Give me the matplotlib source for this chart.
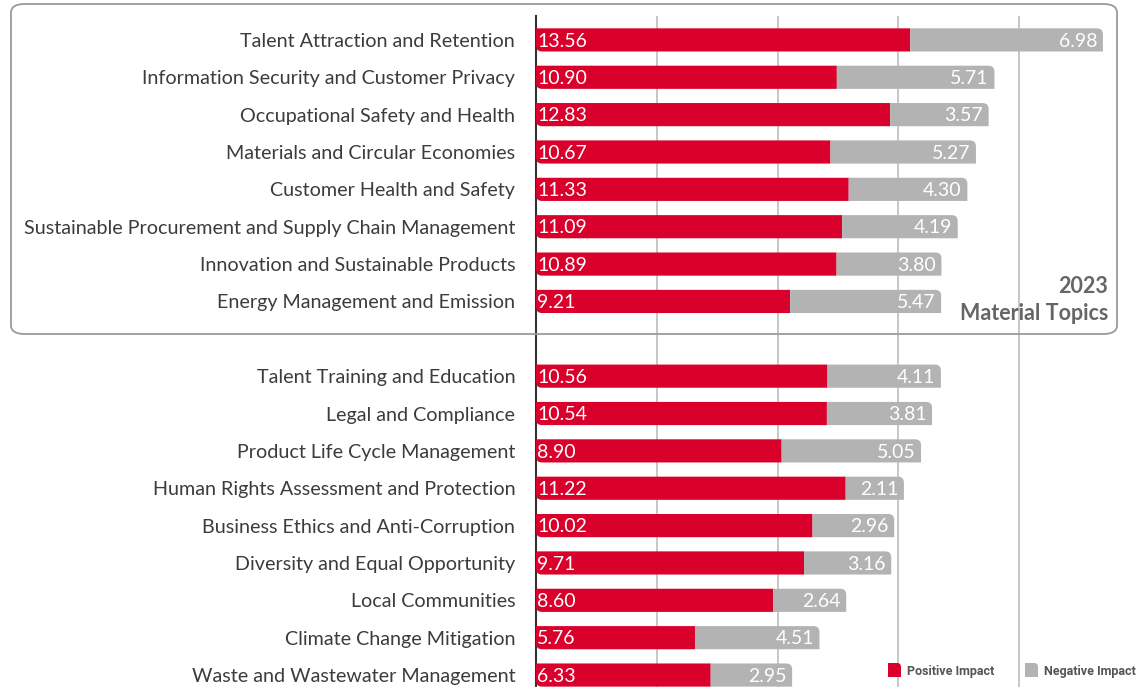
import matplotlib
matplotlib.use("Agg")
import matplotlib.pyplot as plt
from matplotlib.patches import FancyBboxPatch, PathPatch
from matplotlib.path import Path
import numpy as np

topics = [
    "Talent Attraction and Retention",
    "Information Security and Customer Privacy",
    "Occupational Safety and Health",
    "Materials and Circular Economies",
    "Customer Health and Safety",
    "Sustainable Procurement and Supply Chain Management",
    "Innovation and Sustainable Products",
    "Energy Management and Emission",
    "",
    "Talent Training and Education",
    "Legal and Compliance",
    "Product Life Cycle Management",
    "Human Rights Assessment and Protection",
    "Business Ethics and Anti-Corruption",
    "Diversity and Equal Opportunity",
    "Local Communities",
    "Climate Change Mitigation",
    "Waste and Wastewater Management",
]
positive = [13.56, 10.90, 12.83, 10.67, 11.33, 11.09, 10.89, 9.21, None,
            10.56, 10.54, 8.90, 11.22, 10.02, 9.71, 8.60, 5.76, 6.33]
negative = [6.98, 5.71, 3.57, 5.27, 4.30, 4.19, 3.80, 5.47, None,
            4.11, 3.81, 5.05, 2.11, 2.96, 3.16, 2.64, 4.51, 2.95]
legend_labels = ["Positive Impact", "Negative Impact"]
box_title = "2023\nMaterial Topics"

RED = "#D9002B"
GRAY = "#B3B3B3"
TXT = "#3C3C3C"
FONT = ["Lato", "DejaVu Sans"]

W, H = 1140, 687
fig = plt.figure(figsize=(W / 100, H / 100), dpi=100)
ax = fig.add_axes([536 / W, 0, (W - 536) / W, (H - 16) / H])

idx = [i for i, p in enumerate(positive) if p is not None]
pos = np.array([positive[i] for i in idx])
neg = np.array([negative[i] for i in idx])
ys = np.array(idx, dtype=float)

xmax = (W - 536) / 27.6
ax.set_xlim(0, xmax)
ax.set_ylim(17.32, -0.64)


def rounded_rect(x0, y0, x1, y1, rx, ry, corner):
    """Rectangle with one rounded corner: corner = (cx, cy) from x0/x1 and y0/y1."""
    pts = {"ll": (x0, y0), "lr": (x1, y0), "ur": (x1, y1), "ul": (x0, y1)}
    order = ["ll", "lr", "ur", "ul"]
    verts, codes = [], []
    for k in order:
        px, py = pts[k]
        if k == corner:
            # incoming direction and outgoing direction
            i = order.index(k)
            prev = pts[order[i - 1]]
            nxt = pts[order[(i + 1) % 4]]
            dxp = np.sign(prev[0] - px) * rx
            dyp = np.sign(prev[1] - py) * ry
            dxn = np.sign(nxt[0] - px) * rx
            dyn = np.sign(nxt[1] - py) * ry
            a = (px + dxp, py + dyp)
            b = (px + dxn, py + dyn)
            verts += [a, (px, py), b]
            codes += [Path.LINETO, Path.CURVE3, Path.CURVE3]
        else:
            verts.append((px, py))
            codes.append(Path.LINETO)
    codes[0] = Path.MOVETO
    verts.append(verts[0])
    codes.append(Path.CLOSEPOLY)
    return Path(verts, codes)


RX = 6 / 27.6
RY = 6 / 37.36
bars_p = ax.barh(ys, pos, height=0.62, color=RED, zorder=3)
bars_n = ax.barh(ys, neg, left=pos, height=0.62, color=GRAY, zorder=3)
for bars, corner, col in [(bars_p, "ur", RED), (bars_n, "ll", GRAY)]:
    # y axis is inverted: data y1 (larger) is visually the bottom
    for r in bars:
        x0, y0 = r.get_x(), r.get_y()
        x1, y1 = x0 + r.get_width(), y0 + r.get_height()
        c = "ul" if corner == "ur" else "lr"
        path = rounded_rect(x0, y0, x1, y1, RX, RY, c)
        ax.add_patch(PathPatch(path, facecolor=col, edgecolor="none", zorder=3))
        r.set_visible(False)

for y, p, n in zip(ys, pos, neg):
    ax.text(0.05, y + 0.03, f"{p:.2f}", color="white", fontsize=14, family=FONT,
            ha="left", va="center", zorder=4)
    ax.text(p + n - 0.2, y + 0.03, f"{n:.2f}", color="white", fontsize=14, family=FONT,
            ha="right", va="center", zorder=4)

ax.set_xticks([xmax / 5 * k for k in range(1, 5)])
ax.set_xticklabels([])
ax.grid(axis="x", color="#BDBDBD", linewidth=1.2, zorder=0)
ax.tick_params(axis="x", length=0)
ax.set_yticks(range(len(topics)))
ax.set_yticklabels(topics, fontsize=14.2, color=TXT, family=FONT)
ax.tick_params(axis="y", length=0, pad=15)
for s in ["top", "right", "bottom"]:
    ax.spines[s].set_visible(False)
ax.spines["left"].set_color("#333333")
ax.spines["left"].set_linewidth(1.5)
ax.patch.set_alpha(0)

# rounded box around 2023 material topics
box = FancyBboxPatch((11 / W, 1 - 334 / H), (1117 - 11) / W, (334 - 4) / H,
                     boxstyle="round,pad=0,rounding_size=0.012",
                     transform=fig.transFigure, fill=False, edgecolor="#9A9A9A",
                     linewidth=1.3, zorder=1)
fig.patches.append(box)

fig.text(1108 / W, 1 - 300 / H, box_title, ha="right", va="center", fontsize=15.5,
         fontweight="bold", color="#666666", family=FONT, linespacing=1.35)

# legend (swatches with one rounded corner, like the bars)
for (x0, tx), lab, col in zip([(888, 907), (1025, 1044)], legend_labels, [RED, GRAY]):
    fx0, fx1 = x0 / W, (x0 + 13) / W
    fy0, fy1 = 1 - 677 / H, 1 - 663 / H
    sw = rounded_rect(fx0, fy0, fx1, fy1, 4 / W, 4 / H, "ur")
    fig.patches.append(PathPatch(sw, transform=fig.transFigure, facecolor=col,
                                 edgecolor="none"))
    fig.text(tx / W, 1 - 671 / H, lab, ha="left", va="center", fontsize=9,
             fontweight="bold", color="#555555", family=["Roboto", "DejaVu Sans"])

fig.savefig("out.png", dpi=100)
